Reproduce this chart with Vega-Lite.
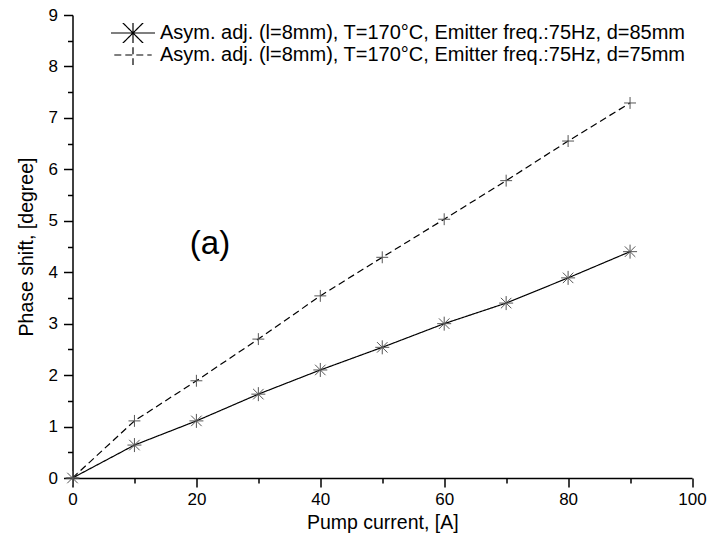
{
  "$schema": "https://vega.github.io/schema/vega-lite/v6.json",
  "width": 619.5,
  "height": 463,
  "autosize": "none",
  "padding": {"left": 72.5, "top": 15, "right": 17, "bottom": 69},
  "background": "white",
  "config": {
    "view": {"stroke": null},
    "font": "Liberation Sans"
  },
  "data": {
    "values": [
      {"current": 0, "shift": 0, "series": "Asym. adj. (l=8mm), T=170°C, Emitter freq.:75Hz, d=85mm"},
      {"current": 10, "shift": 0.64, "series": "Asym. adj. (l=8mm), T=170°C, Emitter freq.:75Hz, d=85mm"},
      {"current": 20, "shift": 1.11, "series": "Asym. adj. (l=8mm), T=170°C, Emitter freq.:75Hz, d=85mm"},
      {"current": 30, "shift": 1.63, "series": "Asym. adj. (l=8mm), T=170°C, Emitter freq.:75Hz, d=85mm"},
      {"current": 40, "shift": 2.1, "series": "Asym. adj. (l=8mm), T=170°C, Emitter freq.:75Hz, d=85mm"},
      {"current": 50, "shift": 2.54, "series": "Asym. adj. (l=8mm), T=170°C, Emitter freq.:75Hz, d=85mm"},
      {"current": 60, "shift": 3.0, "series": "Asym. adj. (l=8mm), T=170°C, Emitter freq.:75Hz, d=85mm"},
      {"current": 70, "shift": 3.4, "series": "Asym. adj. (l=8mm), T=170°C, Emitter freq.:75Hz, d=85mm"},
      {"current": 80, "shift": 3.89, "series": "Asym. adj. (l=8mm), T=170°C, Emitter freq.:75Hz, d=85mm"},
      {"current": 90, "shift": 4.4, "series": "Asym. adj. (l=8mm), T=170°C, Emitter freq.:75Hz, d=85mm"},
      {"current": 0, "shift": 0, "series": "Asym. adj. (l=8mm), T=170°C, Emitter freq.:75Hz, d=75mm"},
      {"current": 10, "shift": 1.11, "series": "Asym. adj. (l=8mm), T=170°C, Emitter freq.:75Hz, d=75mm"},
      {"current": 20, "shift": 1.89, "series": "Asym. adj. (l=8mm), T=170°C, Emitter freq.:75Hz, d=75mm"},
      {"current": 30, "shift": 2.7, "series": "Asym. adj. (l=8mm), T=170°C, Emitter freq.:75Hz, d=75mm"},
      {"current": 40, "shift": 3.54, "series": "Asym. adj. (l=8mm), T=170°C, Emitter freq.:75Hz, d=75mm"},
      {"current": 50, "shift": 4.29, "series": "Asym. adj. (l=8mm), T=170°C, Emitter freq.:75Hz, d=75mm"},
      {"current": 60, "shift": 5.03, "series": "Asym. adj. (l=8mm), T=170°C, Emitter freq.:75Hz, d=75mm"},
      {"current": 70, "shift": 5.78, "series": "Asym. adj. (l=8mm), T=170°C, Emitter freq.:75Hz, d=75mm"},
      {"current": 80, "shift": 6.55, "series": "Asym. adj. (l=8mm), T=170°C, Emitter freq.:75Hz, d=75mm"},
      {"current": 90, "shift": 7.29, "series": "Asym. adj. (l=8mm), T=170°C, Emitter freq.:75Hz, d=75mm"}
    ]
  },
  "encoding": {
    "x": {
      "field": "current", "type": "quantitative",
      "scale": {"domain": [0, 100], "nice": false, "zero": false},
      "axis": {
        "title": "Pump current, [A]",
        "values": [0, 10, 20, 30, 40, 50, 60, 70, 80, 90, 100],
        "labelExpr": "datum.value % 20 === 0 ? format(datum.value, 'd') : ''",
        "grid": false,
        "labelFlush": false,
        "labelOverlap": false,
        "domainColor": "black", "domainWidth": 1.5,
        "tickColor": "black", "tickWidth": 1.5,
        "tickSize": {"condition": {"test": "datum.value % 20 !== 0", "value": 5}, "value": 9},
        "labelFontSize": 17, "labelColor": "black", "labelPadding": 4,
        "titleFontSize": 19.5, "titleFontWeight": "normal", "titleColor": "black", "titlePadding": 6
      }
    },
    "y": {
      "field": "shift", "type": "quantitative",
      "scale": {"domain": [0, 9], "nice": false},
      "axis": {
        "title": "Phase shift, [degree]",
        "values": [0, 0.5, 1, 1.5, 2, 2.5, 3, 3.5, 4, 4.5, 5, 5.5, 6, 6.5, 7, 7.5, 8, 8.5, 9],
        "labelExpr": "datum.value % 1 === 0 ? format(datum.value, 'd') : ''",
        "grid": false,
        "labelOverlap": false,
        "labelFlush": false,
        "domainColor": "black", "domainWidth": 1.5,
        "tickColor": "black", "tickWidth": 1.5,
        "tickSize": {"condition": {"test": "datum.value % 1 !== 0", "value": 5}, "value": 9},
        "labelFontSize": 17, "labelColor": "black", "labelPadding": 6,
        "titleFontSize": 19.5, "titleFontWeight": "normal", "titleColor": "black", "titlePadding": 12
      }
    }
  },
  "layer": [
    {
      "mark": {"type": "line", "color": "black", "strokeWidth": 1.2},
      "encoding": {
        "strokeDash": {
          "field": "series", "type": "nominal",
          "scale": {
            "domain": ["Asym. adj. (l=8mm), T=170°C, Emitter freq.:75Hz, d=85mm", "Asym. adj. (l=8mm), T=170°C, Emitter freq.:75Hz, d=75mm"],
            "range": [[1, 0], [7, 4]]
          },
          "legend": {
            "title": null,
            "orient": "none",
            "legendX": 37.5,
            "legendY": 8,
            "padding": 0,
            "rowPadding": 2,
            "clipHeight": 20,
            "symbolSize": 1936,
            "symbolStrokeColor": "black",
            "symbolStrokeWidth": 1.2,
            "labelFontSize": 20,
            "labelColor": "black",
            "labelOffset": 4,
            "labelLimit": 0,
            "encode": {
              "symbols": {
                "update": {
                  "shape": {"signal": "indexOf(datum.value, '85mm') >= 0 ? 'M-1,0L1,0M0,-0.25L0,0.25M-0.18,-0.18L0.18,0.18M-0.18,0.18L0.18,-0.18' : 'M-1,0L1,0M0,-0.23L0,0.23'"}
                }
              }
            }
          }
        }
      }
    },
    {
      "mark": {"type": "point", "filled": false, "strokeWidth": 1, "size": 196, "color": "#555", "opacity": 1},
      "encoding": {
        "shape": {
          "field": "series", "type": "nominal",
          "scale": {
            "domain": ["Asym. adj. (l=8mm), T=170°C, Emitter freq.:75Hz, d=85mm", "Asym. adj. (l=8mm), T=170°C, Emitter freq.:75Hz, d=75mm"],
            "range": [
              "M0,-1L0,1M-0.75,-0.75L0.75,0.75M-0.75,0.75L0.75,-0.75M-1,0L1,0",
              "M0,-0.85L0,0.85M-0.85,0L0.85,0"
            ]
          },
          "legend": null
        }
      }
    },
    {
      "data": {"values": [{"current": 22.2, "shift": 4.55, "label": "(a)"}]},
      "mark": {"type": "text", "fontSize": 33, "align": "center", "baseline": "middle", "color": "black"},
      "encoding": {
        "text": {"field": "label", "type": "nominal"}
      }
    }
  ]
}
